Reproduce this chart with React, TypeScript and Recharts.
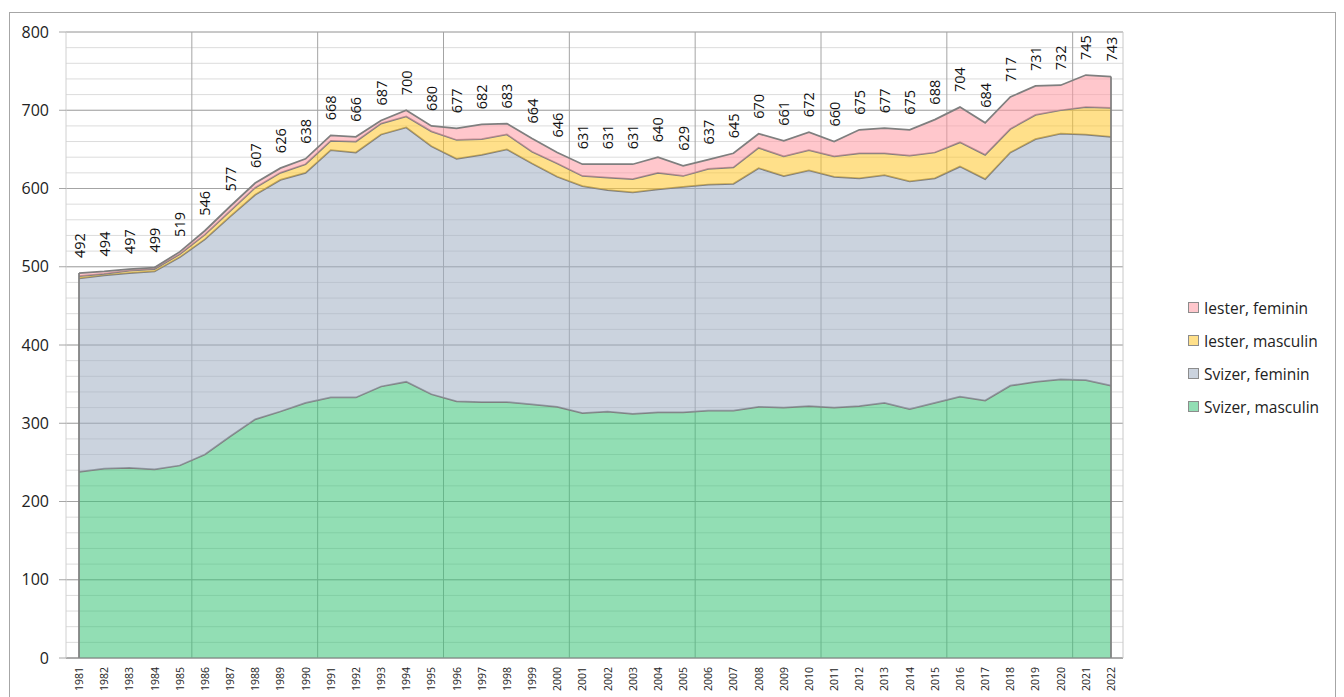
import React from "react";
import {
  AreaChart,
  Area,
  XAxis,
  YAxis,
  CartesianGrid,
  LabelList,
  ReferenceLine,
} from "recharts";

const years = [
  "1981", "1982", "1983", "1984", "1985", "1986", "1987", "1988", "1989", "1990",
  "1991", "1992", "1993", "1994", "1995", "1996", "1997", "1998", "1999", "2000",
  "2001", "2002", "2003", "2004", "2005", "2006", "2007", "2008", "2009", "2010",
  "2011", "2012", "2013", "2014", "2015", "2016", "2017", "2018", "2019", "2020",
  "2021", "2022",
];

const svizerMasculin = [
  238, 242, 243, 241, 246, 260, 283, 305, 315, 326,
  333, 333, 347, 353, 337, 328, 327, 327, 324, 321,
  313, 315, 312, 314, 314, 316, 316, 321, 320, 322,
  320, 322, 326, 318, 326, 334, 329, 348, 353, 356,
  355, 348,
];

const svizerFeminin = [
  247, 247, 249, 253, 266, 275, 281, 287, 296, 294,
  316, 313, 322, 325, 317, 310, 316, 323, 308, 294,
  290, 283, 283, 285, 288, 289, 290, 305, 296, 301,
  295, 291, 291, 291, 287, 294, 283, 298, 310, 314,
  314, 318,
];

const iesterMasculin = [
  3, 2, 3, 3, 4, 6, 7, 9, 9, 11,
  12, 14, 14, 14, 19, 24, 20, 19, 15, 17,
  13, 16, 17, 21, 14, 20, 21, 26, 25, 26,
  26, 32, 28, 33, 33, 31, 31, 30, 31, 30,
  35, 37,
];

const iesterFeminin = [
  4, 3, 2, 2, 3, 5, 6, 6, 6, 7,
  7, 6, 4, 8, 7, 15, 19, 14, 17, 14,
  15, 17, 19, 20, 13, 12, 18, 18, 20, 23,
  19, 30, 32, 33, 42, 45, 41, 41, 37, 32,
  41, 40,
];

const yTicks = [0, 100, 200, 300, 400, 500, 600, 700, 800];
const minorValues = Array.from({ length: 41 }, (_, i) => i * 20);

// stacked bottom -> top
const series = [
  { key: "svizerMasculin", name: "Svizer, masculin", fill: "#39c377", swatch: "#92deb4" },
  { key: "svizerFeminin", name: "Svizer, feminin", fill: "#a0afc3", swatch: "#cbd3de" },
  { key: "iesterMasculin", name: "Iester, masculin", fill: "#ffc72a", swatch: "#ffe08a" },
  { key: "iesterFeminin", name: "Iester, feminin", fill: "#ff99a2", swatch: "#ffc7cc" },
];

const data = years.map((year, i) => ({
  year,
  svizerMasculin: svizerMasculin[i],
  svizerFeminin: svizerFeminin[i],
  iesterMasculin: iesterMasculin[i],
  iesterFeminin: iesterFeminin[i],
  total: svizerMasculin[i] + svizerFeminin[i] + iesterMasculin[i] + iesterFeminin[i],
}));

const FONT = "'Open Sans', 'Noto Sans', sans-serif";
const OUTLINE = "#7f7f7f";

const YearTick = (props: any) => {
  const { x, y, payload } = props;
  return (
    <text
      transform={`translate(${x},${y}) rotate(-90)`}
      textAnchor="end"
      dominantBaseline="central"
      fontSize={10.5}
      fontFamily={FONT}
      fill="#222"
    >
      {payload.value}
    </text>
  );
};

const TotalLabel = (props: any) => {
  const { x, y, value } = props;
  return (
    <text
      transform={`translate(${x},${y - 15}) rotate(-90)`}
      textAnchor="start"
      dominantBaseline="central"
      fontSize={14.5}
      fontFamily={FONT}
      fill="#111"
    >
      {value}
    </text>
  );
};

const App = () => {
  const first = data[0];
  const last = data[data.length - 1];
  return (
    <div style={{ position: "absolute", left: 0, top: 0, width: 1344, height: 697, overflow: "hidden", background: "#fff" }}>
      <div
        style={{
          position: "absolute",
          left: 9,
          top: 12,
          width: 1325,
          height: 700,
          border: "1px solid #a6a6a6",
        }}
      />
      <div style={{ position: "absolute", left: 0, top: 0 }}>
        <AreaChart
          width={1344}
          height={697}
          data={data}
          margin={{ top: 32, right: 161, left: 0, bottom: 0 }}
        >
          <CartesianGrid
            stroke="#dcdcdc"
            vertical={false}
            horizontalCoordinatesGenerator={({ offset }: any) =>
              minorValues.map((v) => offset.top + offset.height * (1 - v / 800))
            }
          />
          <CartesianGrid
            stroke="#a4a4a4"
            horizontalCoordinatesGenerator={({ offset }: any) =>
              yTicks.map((v) => offset.top + offset.height * (1 - v / 800))
            }
            verticalCoordinatesGenerator={({ offset }: any) =>
              [5, 10, 15, 20, 25, 30, 35, 40].map((k) => offset.left + (offset.width * k) / years.length)
            }
            verticalFill={[]}
          />
          <XAxis
            dataKey="year"
            interval={0}
            height={39}
            padding={{ left: 13, right: 12 }}
            tickLine={false}
            tickSize={0}
            tickMargin={9}
            axisLine={{ stroke: "#8c8c8c" }}
            tick={<YearTick />}
          />
          <YAxis
            yAxisId="left"
            width={66}
            domain={[0, 800]}
            ticks={yTicks}
            tickSize={7}
            tickMargin={10}
            axisLine={{ stroke: "#d0d0d0" }}
            tickLine={{ stroke: "#a6a6a6" }}
            tick={{ fontSize: 16, fontFamily: FONT, fill: "#222" }}
          />
          <YAxis
            yAxisId="right"
            orientation="right"
            width={60}
            domain={[0, 800]}
            ticks={yTicks}
            tickSize={7}
            tickMargin={11}
            axisLine={{ stroke: "#c8c8c8" }}
            tickLine={{ stroke: "#a6a6a6" }}
            tick={{ fontSize: 16, fontFamily: FONT, fill: "#222", textAnchor: "start" }}
          />
          {series.map((s) => (
            <Area
              key={s.key}
              yAxisId="left"
              type="linear"
              dataKey={s.key}
              name={s.name}
              stackId="a"
              fill={s.fill}
              fillOpacity={0.55}
              stroke={OUTLINE}
              strokeWidth={1.75}
              dot={false}
              activeDot={false}
              isAnimationActive={false}
            >
              {s.key === "iesterFeminin" && (
                <LabelList dataKey="total" content={<TotalLabel />} />
              )}
            </Area>
          ))}
          <ReferenceLine
            yAxisId="left"
            stroke={OUTLINE}
            strokeWidth={1.75}
            segment={[{ x: first.year, y: 0 }, { x: first.year, y: first.total }]}
          />
          <ReferenceLine
            yAxisId="left"
            stroke={OUTLINE}
            strokeWidth={1.75}
            segment={[{ x: last.year, y: 0 }, { x: last.year, y: last.total }]}
          />
        </AreaChart>
      </div>
      <div
        style={{
          position: "absolute",
          left: 1188,
          top: 291,
          fontFamily: FONT,
          fontSize: 15.5,
          color: "#222",
        }}
      >
        {[...series].reverse().map((s) => (
          <div key={s.key} style={{ display: "flex", alignItems: "center", height: 33 }}>
            <span
              style={{
                width: 9,
                height: 9,
                background: s.swatch,
                border: "1px solid #8c8c8c",
                marginRight: 5,
                display: "inline-block",
              }}
            />
            <span>{s.name}</span>
          </div>
        ))}
      </div>
    </div>
  );
};

export default App;
